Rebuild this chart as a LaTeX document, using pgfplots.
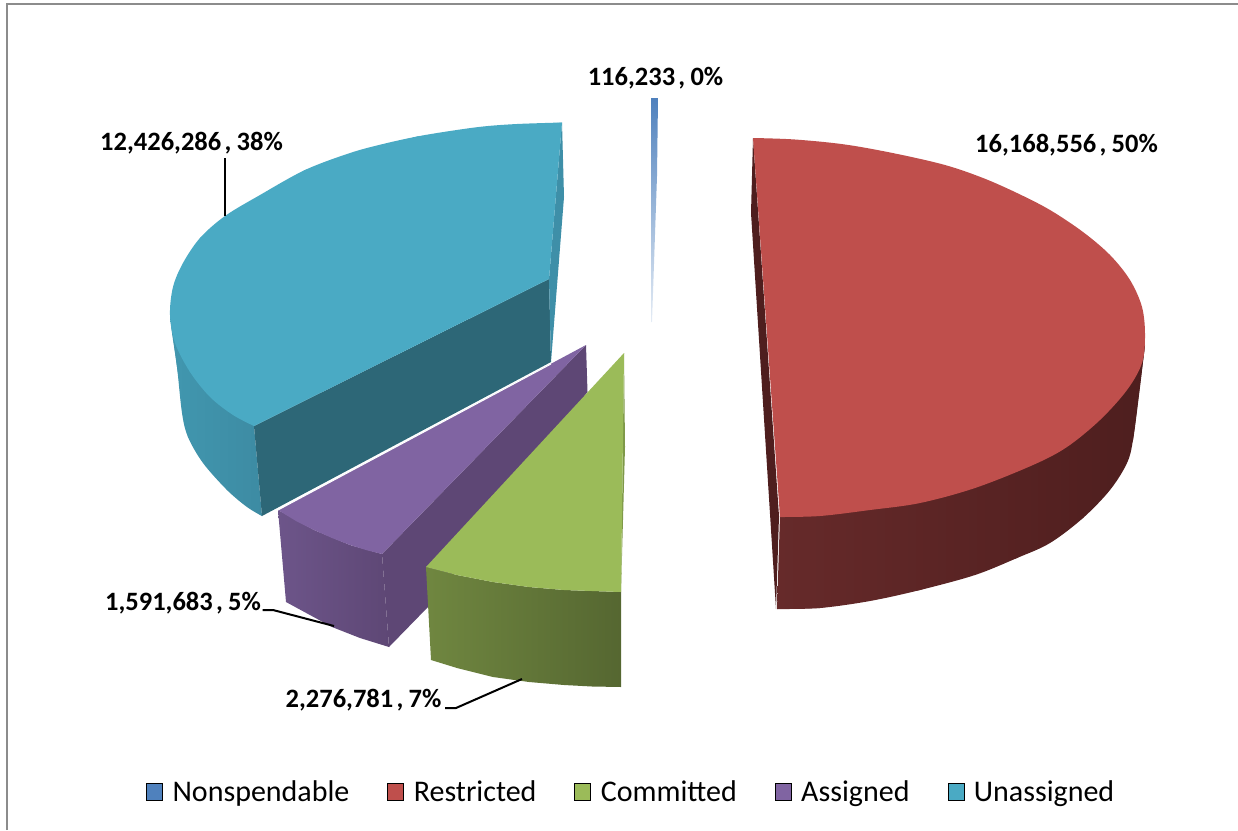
\documentclass[border=0pt]{standalone}
\usepackage{fontspec}
\setmainfont{Carlito}
\usepackage{pgfplots}
\pgfplotsset{compat=1.18}
\definecolor{blueT}{HTML}{4F81BD}
\definecolor{redT}{HTML}{BF4F4C}
\definecolor{greenT}{HTML}{9BBB59}
\definecolor{purpT}{HTML}{8064A2}
\definecolor{tealT}{HTML}{4AAAC4}
\definecolor{tealIn}{HTML}{2D6777}
\definecolor{tealThin}{HTML}{3E8FA8}
\definecolor{tealL}{HTML}{4197AF}
\definecolor{tealR}{HTML}{3D8BA3}
\definecolor{redIn}{HTML}{4E1E1E}
\definecolor{redSide}{HTML}{662A2A}
\definecolor{purpIn}{HTML}{5E4775}
\definecolor{frameC}{HTML}{8C8C8C}
\pgfplotsset{sq/.style={legend image code/.code={\fill[##1] (0pt,-8.5pt) rectangle (16pt,8.5pt);}}}
\newcommand{\lab}[2]{\fontsize{26.5}{28}\selectfont\bfseries #1\hspace{.12em},\hspace{.2em}#2}
\begin{document}
\begin{tikzpicture}
\begin{axis}[
  width=1238pt,height=830pt,scale only axis,
  xmin=0,xmax=1238,ymin=0,ymax=830,y dir=reverse,
  axis lines=none,
  legend columns=5,
  legend style={at={(axis cs:143,792)},anchor=west,draw=none,fill=none,
    font=\fontsize{30}{32}\selectfont,
    /tikz/every even column/.append style={column sep=36pt},
    /tikz/every odd column/.append style={column sep=8pt}},
]
\path (axis cs:0,0) rectangle (axis cs:1238,830);
% frame
\addplot[forget plot,frameC,line width=2pt] coordinates {(7,830)(7,3.5)(1238,3.5)};
% Unassigned
\addplot[forget plot,draw=none,smooth,tension=0.55,left color=tealL,right color=tealR] coordinates {
(170,315)(172,333)(177,367)(182,413)(188,437)(203,463)(227,490)(247,507)(262,516)};
\addplot[forget plot,draw=none,left color=tealL,right color=tealR] coordinates {(170,315)(177,367)(188,437)(227,490)(262,516)(254,426)};
\addplot[forget plot,draw=none,fill=tealIn] coordinates {(254,426)(549,279)(551,362)(262,516)(254,426)};
\addplot[forget plot,draw=none,fill=tealThin] coordinates {(562,122.5)(564,197)(551,362)(549,279)(562,122.5)};
\addplot[forget plot,draw=none,smooth,tension=0.55,fill=tealT] coordinates {
(562,122.5)(517,124)(483,126.5)(450,131)(417,136.5)(383,144)(350,153)(305,170)(260,195)(225,216)(200,238)(183,263)(173,287)(170,315)(175,343)(190,372)(210,397)(233,415)(254,426)};
\addplot[forget plot,draw=none,fill=tealT] coordinates {(562,122.5)(417,136.5)(305,170)(200,238)(170,315)(190,372)(254,426)(549,279)};
% Restricted
\addplot[forget plot,draw=none,fill=redIn] coordinates {(753,138)(751,213)(776,609)(779,516)(753,138)};
\addplot[forget plot,draw=none,smooth,tension=0.55,left color=redSide,middle color=redIn,right color=redIn] coordinates {
(1145,345)(1139,395)(1133,440)(1127,463)(1110,490)(1083,518)(1050,543)(1017,558)(975,575)(920,590)(870,601)(820,608)(777,609)};
\addplot[forget plot,draw=none,left color=redSide,middle color=redIn,right color=redIn] coordinates {(1145,345)(1133,440)(1083,518)(1017,558)(920,590)(820,608)(777,609)(780,516)};
\addplot[forget plot,draw=none,smooth,tension=0.55,fill=redT] coordinates {
(753,138)(795,139.5)(845,144.5)(895,153.5)(945,165)(983,178)(1017,193)(1050,210)(1083,232)(1110,255)(1130,280)(1142,307)(1145,335)(1142,363)(1127,390)(1100,420)(1067,447)(1033,465)(975,488)(920,503)(870,510)(820,516)(780,517)};
% Nonspendable
\addplot[forget plot,draw=none,top color=blueT,middle color=blueT!85!white,bottom color=blueT!15!white] coordinates {(651,98)(658,98)(657,176)(652,322)(651,322)(651,98)};
% Assigned
\addplot[forget plot,draw=none,fill=purpIn] coordinates {(586,345)(587.5,392)(428,607)(389,647)(382,554)(586,345)};
\addplot[forget plot,draw=none,left color=purpT!85!black,right color=purpIn] coordinates {
(278,510)(286,602)(332,627)(360,638)(389,647)(382,554)(350,545)(314,530)(278,510)};
\addplot[forget plot,draw=none,fill=purpT] coordinates {(586,345)(278,510)(296,521)(314,530)(332,538)(350,545)(366,550)(382,554)(586,345)};
\addplot[forget plot,white,line width=1pt] coordinates {(551,364)(278,510)};
% Committed
\addplot[forget plot,draw=none,left color=greenT!72!black,right color=greenT!55!black] coordinates {
(426,567)(431,660)(457,668)(493,677)(529,682)(564,685)(592,686.5)(621,687)(621,592)(592,591)(564,590)(529,587)(493,582)(457,575)(426,567)};
\addplot[forget plot,draw=none,fill=greenT!82!black] coordinates {(624,353)(625,447)(621,592)(624,353)};
\addplot[forget plot,draw=none,fill=greenT] coordinates {(624,353)(621,592)(592,591)(564,590)(529,587)(493,582)(457,575)(426,567)(624,353)};
% leaders
\addplot[forget plot,black,line width=2pt] coordinates {(224.5,158)(224.5,216)};
\addplot[forget plot,black,line width=2pt] coordinates {(262.5,610)(273,610)(334,626)};
\addplot[forget plot,black,line width=2pt] coordinates {(445,708)(456,708)(522,679)};
% labels
\node[anchor=center] at (axis cs:655.5,78) {\lab{116,233}{0\%}};
\node[anchor=center] at (axis cs:1066.5,145) {\lab{16,168,556}{50\%}};
\node[anchor=center] at (axis cs:191.5,143) {\lab{12,426,286}{38\%}};
\node[anchor=center] at (axis cs:183,603) {\lab{1,591,683}{5\%}};
\node[anchor=center] at (axis cs:363.5,700) {\lab{2,276,781}{7\%}};
% legend
\addlegendimage{sq,fill=blueT}\addlegendentry{Nonspendable}
\addlegendimage{sq,fill=redT}\addlegendentry{Restricted}
\addlegendimage{sq,fill=greenT}\addlegendentry{Committed}
\addlegendimage{sq,fill=purpT}\addlegendentry{Assigned}
\addlegendimage{sq,fill=tealT}\addlegendentry{Unassigned}
\end{axis}
\end{tikzpicture}
\end{document}
